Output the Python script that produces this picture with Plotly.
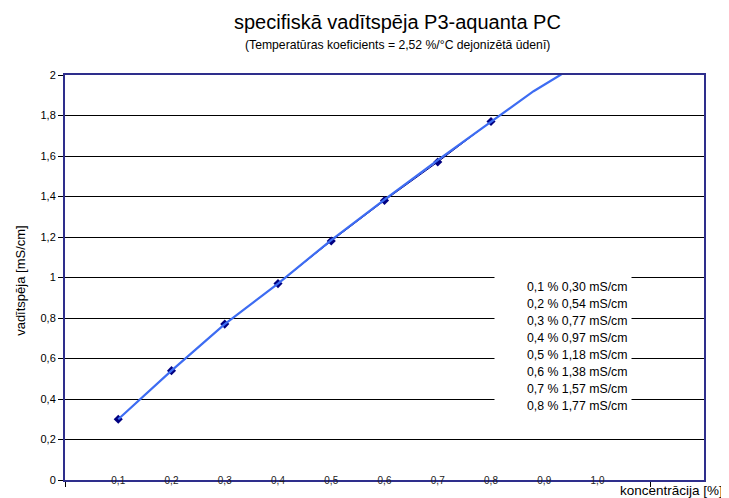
import plotly.graph_objects as go

# Data
concentration = [0.1, 0.2, 0.3, 0.4, 0.5, 0.6, 0.7, 0.8]
conductivity = [0.30, 0.54, 0.77, 0.97, 1.18, 1.38, 1.57, 1.77]
trend_x = [0.1, 0.2, 0.3, 0.4, 0.5, 0.6, 0.7, 0.8, 0.88, 0.93, 1.0]
trend_y = [0.30, 0.54, 0.77, 0.97, 1.185, 1.385, 1.58, 1.77, 1.92, 2.0, 2.12]
x_tickvals = [0.1, 0.2, 0.3, 0.4, 0.5, 0.6, 0.7, 0.8, 0.9, 1.0]
x_ticklabels = ["0,1", "0,2", "0,3", "0,4", "0,5", "0,6", "0,7", "0,8", "0,9", "1,0"]
y_tickvals = [0, 0.2, 0.4, 0.6, 0.8, 1.0, 1.2, 1.4, 1.6, 1.8, 2.0]
y_ticklabels = ["0", "0,2", "0,4", "0,6", "0,8", "1", "1,2", "1,4", "1,6", "1,8", "2"]

FONT = "Liberation Sans, Arial, sans-serif"
NAVY = "#000080"
FRAME = "#2e2e8c"

fig = go.Figure()
fig.add_trace(go.Scatter(
    x=concentration, y=conductivity, mode="lines+markers",
    line=dict(color=NAVY, width=1),
    marker=dict(symbol="diamond", size=7, color=NAVY),
    showlegend=False, hoverinfo="x+y"))
fig.add_trace(go.Scatter(
    x=trend_x, y=trend_y, mode="lines",
    line=dict(color="#3d6cf2", width=2.2),
    showlegend=False, hoverinfo="skip"))

fig.update_layout(
    width=721, height=490,
    margin=dict(l=57, r=25, t=67, b=18),
    paper_bgcolor="white", plot_bgcolor="white",
    font=dict(family=FONT, color="black"),
    xaxis=dict(
        range=[0, 1.2], tickmode="array", tickvals=x_tickvals, ticktext=x_ticklabels,
        ticks="", ticklen=0, tickfont=dict(size=10, color="#222"),
        ticklabelstandoff=-10,
        showgrid=False, zeroline=False,
        showline=True, linecolor=FRAME, linewidth=2, mirror=True,
        minor=dict(tick0=0, dtick=1.1, ticks="outside", ticklen=5, tickcolor="black", showgrid=False),
    ),
    yaxis=dict(
        range=[0, 2], tickmode="array", tickvals=y_tickvals, ticktext=y_ticklabels,
        ticks="outside", ticklen=5, tickcolor="black", tickfont=dict(size=11),
        showgrid=True, gridcolor="black", gridwidth=1, zeroline=False,
        showline=True, linecolor=FRAME, linewidth=2, mirror=True,
    ),
)

annotations = [
    dict(text="specifiskā vadītspēja P3-aquanta PC", xref="paper", yref="paper",
         x=0.52, y=1.131, xanchor="center", yanchor="middle", showarrow=False,
         font=dict(size=20, family=FONT)),
    dict(text="(Temperatūras koeficients = 2,52 %/°C dejonizētā ūdenī)", xref="paper", yref="paper",
         x=0.52, y=1.074, xanchor="center", yanchor="middle", showarrow=False,
         font=dict(size=12.2, family=FONT)),
    dict(text="vadītspēja [mS/cm]", xref="paper", yref="paper", textangle=-90,
         x=-0.069, y=0.494, xanchor="center", yanchor="middle", showarrow=False,
         font=dict(size=13, family=FONT)),
    dict(text="koncentrācija [%]", xref="paper", yref="paper",
         x=1.033, y=-0.027, xanchor="right", yanchor="middle", showarrow=False,
         font=dict(size=13.5, family=FONT)),
    # white legend box
    dict(text=" ", xref="paper", yref="paper", x=0.78, y=0.331, xanchor="center",
         yanchor="middle", showarrow=False, width=134, height=138, bgcolor="white"),
]

for i, (c, v) in enumerate(zip(concentration, conductivity)):
    label = f"{c:.1f} % {v:.2f} mS/cm".replace(".", ",")
    py = 287 + 17 * i
    annotations.append(dict(
        text=label, xref="paper", yref="paper",
        x=(525 - 65) / 639, y=(480 - py) / 405, xanchor="left", yanchor="middle",
        showarrow=False, font=dict(size=12.3, family=FONT)))

fig.update_layout(annotations=annotations)
fig.write_html("out.html")
